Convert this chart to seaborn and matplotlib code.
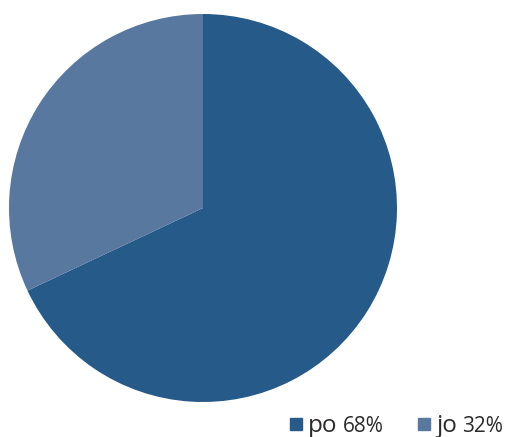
import matplotlib
matplotlib.use('Agg')
import matplotlib.pyplot as plt
import seaborn as sns
from matplotlib.patches import Rectangle

labels = ['po', 'jo']
values = [68, 32]
colors = ['#265a88', '#5878a0']

sns.set_style('white')
plt.rcParams['font.family'] = ['Open Sans', 'DejaVu Sans']

W, H = 510, 437
fig = plt.figure(figsize=(W / 100, H / 100), dpi=100)
ax = fig.add_axes([9 / W, (437 - 402) / H, 388 / W, 388 / H])
ax.pie(values, colors=sns.color_palette(colors), startangle=90, counterclock=False,
       wedgeprops=dict(linewidth=0))
ax.set_xlim(-1, 1)
ax.set_ylim(-1, 1)
ax.set_aspect('equal')
ax.axis('off')

# legend drawn by hand: big name, smaller percent
xs = [290, 418]
for x, lab, val, c in zip(xs, labels, values, colors):
    fig.patches.append(Rectangle((x / W, (H - 430) / H), 12 / W, 12 / H,
                                 transform=fig.transFigure, color=c))
    t = fig.text((x + 18) / W, (H - 432) / H, lab, fontsize=17.5, color='#2a2a2a',
                 va='baseline', ha='left')
    fig.canvas.draw()
    bb = t.get_window_extent()
    fig.text((bb.x1 + 5) / W, (H - 432) / H, f'{val}%', fontsize=15, color='#2a2a2a',
             va='baseline', ha='left')

fig.savefig('out.png', dpi=100)
